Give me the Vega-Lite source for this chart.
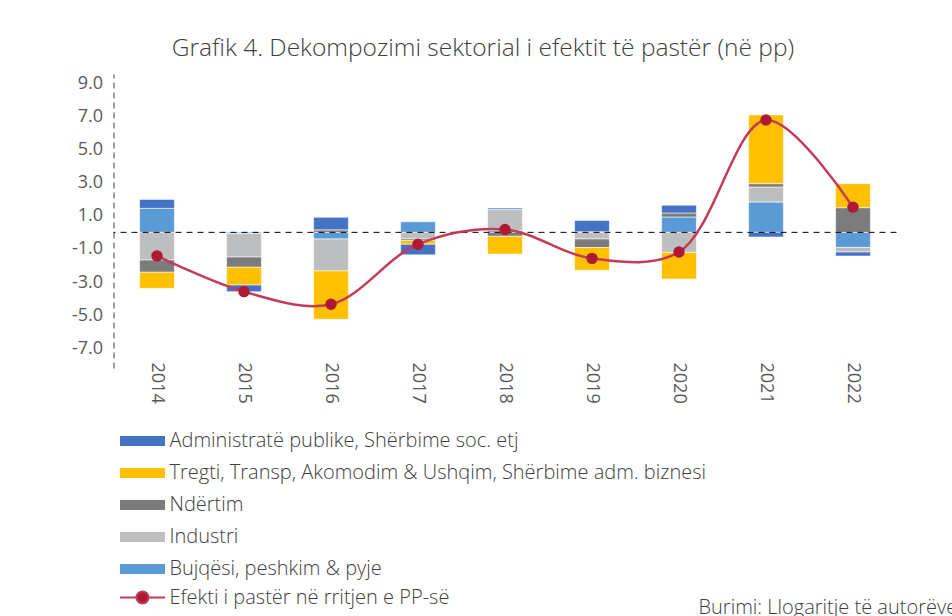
{
  "$schema": "https://vega.github.io/schema/vega-lite/v6.json",
  "autosize": {"type": "none"},
  "width": 783,
  "height": 294,
  "padding": {"left": 113.5, "top": 74, "right": 55.5, "bottom": 248},
  "background": "white",
  "config": {
    "font": "Open Sans",
    "view": {"stroke": null},
    "axis": {"labelFont": "Open Sans", "titleFont": "Open Sans"},
    "axisY": {"labelOverlap": false, "tickCount": 20}
  },
  "title": {
    "text": "Grafik 4. Dekompozimi sektorial i efektit të pastër (në pp)",
    "anchor": "middle",
    "dx": -22,
    "offset": 13,
    "fontSize": 24.5,
    "font": "Open Sans",
    "fontWeight": 300,
    "color": "#404040"
  },
  "datasets": {
    "sektoret": [
      {"viti": "2014", "sektori": "Bujqësi, peshkim & pyje", "vlera": 1.45},
      {"viti": "2014", "sektori": "Industri", "vlera": -1.67},
      {"viti": "2014", "sektori": "Ndërtim", "vlera": -0.74},
      {"viti": "2014", "sektori": "Tregti, Transp, Akomodim & Ushqim, Shërbime adm. biznesi", "vlera": -0.97},
      {"viti": "2014", "sektori": "Administratë publike, Shërbime soc. etj", "vlera": 0.54},
      {"viti": "2015", "sektori": "Bujqësi, peshkim & pyje", "vlera": -0.08},
      {"viti": "2015", "sektori": "Industri", "vlera": -1.41},
      {"viti": "2015", "sektori": "Ndërtim", "vlera": -0.62},
      {"viti": "2015", "sektori": "Tregti, Transp, Akomodim & Ushqim, Shërbime adm. biznesi", "vlera": -1.07},
      {"viti": "2015", "sektori": "Administratë publike, Shërbime soc. etj", "vlera": -0.40},
      {"viti": "2016", "sektori": "Bujqësi, peshkim & pyje", "vlera": -0.40},
      {"viti": "2016", "sektori": "Industri", "vlera": -1.93},
      {"viti": "2016", "sektori": "Ndërtim", "vlera": 0.15},
      {"viti": "2016", "sektori": "Tregti, Transp, Akomodim & Ushqim, Shërbime adm. biznesi", "vlera": -2.92},
      {"viti": "2016", "sektori": "Administratë publike, Shërbime soc. etj", "vlera": 0.76},
      {"viti": "2017", "sektori": "Bujqësi, peshkim & pyje", "vlera": 0.64},
      {"viti": "2017", "sektori": "Industri", "vlera": -0.40},
      {"viti": "2017", "sektori": "Ndërtim", "vlera": -0.10},
      {"viti": "2017", "sektori": "Tregti, Transp, Akomodim & Ushqim, Shërbime adm. biznesi", "vlera": -0.22},
      {"viti": "2017", "sektori": "Administratë publike, Shërbime soc. etj", "vlera": -0.64},
      {"viti": "2018", "sektori": "Bujqësi, peshkim & pyje", "vlera": 0.12},
      {"viti": "2018", "sektori": "Industri", "vlera": 1.27},
      {"viti": "2018", "sektori": "Ndërtim", "vlera": -0.24},
      {"viti": "2018", "sektori": "Tregti, Transp, Akomodim & Ushqim, Shërbime adm. biznesi", "vlera": -1.07},
      {"viti": "2018", "sektori": "Administratë publike, Shërbime soc. etj", "vlera": 0.08},
      {"viti": "2019", "sektori": "Bujqësi, peshkim & pyje", "vlera": 0.04},
      {"viti": "2019", "sektori": "Industri", "vlera": -0.40},
      {"viti": "2019", "sektori": "Ndërtim", "vlera": -0.52},
      {"viti": "2019", "sektori": "Tregti, Transp, Akomodim & Ushqim, Shërbime adm. biznesi", "vlera": -1.37},
      {"viti": "2019", "sektori": "Administratë publike, Shërbime soc. etj", "vlera": 0.68},
      {"viti": "2020", "sektori": "Bujqësi, peshkim & pyje", "vlera": 0.93},
      {"viti": "2020", "sektori": "Industri", "vlera": -1.21},
      {"viti": "2020", "sektori": "Ndërtim", "vlera": 0.24},
      {"viti": "2020", "sektori": "Tregti, Transp, Akomodim & Ushqim, Shërbime adm. biznesi", "vlera": -1.61},
      {"viti": "2020", "sektori": "Administratë publike, Shërbime soc. etj", "vlera": 0.47},
      {"viti": "2021", "sektori": "Bujqësi, peshkim & pyje", "vlera": 1.83},
      {"viti": "2021", "sektori": "Industri", "vlera": 0.91},
      {"viti": "2021", "sektori": "Ndërtim", "vlera": 0.20},
      {"viti": "2021", "sektori": "Tregti, Transp, Akomodim & Ushqim, Shërbime adm. biznesi", "vlera": 4.15},
      {"viti": "2021", "sektori": "Administratë publike, Shërbime soc. etj", "vlera": -0.28},
      {"viti": "2022", "sektori": "Bujqësi, peshkim & pyje", "vlera": -0.91},
      {"viti": "2022", "sektori": "Industri", "vlera": -0.28},
      {"viti": "2022", "sektori": "Ndërtim", "vlera": 1.49},
      {"viti": "2022", "sektori": "Tregti, Transp, Akomodim & Ushqim, Shërbime adm. biznesi", "vlera": 1.45},
      {"viti": "2022", "sektori": "Administratë publike, Shërbime soc. etj", "vlera": -0.24}
    ],
    "efekti": [
      {"viti": "2014", "efekti": -1.42},
      {"viti": "2015", "efekti": -3.58},
      {"viti": "2016", "efekti": -4.34},
      {"viti": "2017", "efekti": -0.72},
      {"viti": "2018", "efekti": 0.17},
      {"viti": "2019", "efekti": -1.57},
      {"viti": "2020", "efekti": -1.19},
      {"viti": "2021", "efekti": 6.78},
      {"viti": "2022", "efekti": 1.52}
    ]
  },
  "encoding": {
    "x": {
      "field": "viti",
      "type": "nominal",
      "scale": {"paddingInner": 0.6, "paddingOuter": 0.3},
      "axis": {
        "title": "Burimi: Llogaritje të autorëve.",
        "titleX": 584.5,
        "titleY": 245,
        "titleAlign": "left",
        "titleAnchor": null,
        "titleBaseline": "alphabetic",
        "titleFontSize": 20,
        "titleFontWeight": 300,
        "titleColor": "#404040",
        "labelAngle": 90,
        "labelFontSize": 18,
        "labelColor": "#595959",
        "labelPadding": -6,
        "ticks": false,
        "domain": false,
        "grid": false
      }
    }
  },
  "layer": [
    {
      "data": {"name": "sektoret"},
      "transform": [
        {"calculate": "indexof(['Bujqësi, peshkim & pyje', 'Industri', 'Ndërtim', 'Tregti, Transp, Akomodim & Ushqim, Shërbime adm. biznesi', 'Administratë publike, Shërbime soc. etj'], datum.sektori)", "as": "rendi"}
      ],
      "mark": {"type": "bar", "stroke": "#FFFFFF", "strokeWidth": 0.8, "strokeOpacity": 0.7},
      "encoding": {
        "y": {
          "field": "vlera",
          "type": "quantitative",
          "stack": "zero",
          "scale": {"domain": [-8.19, 9.56], "nice": false, "zero": false},
          "axis": {
            "title": null,
            "values": [-7, -5, -3, -1, 1, 3, 5, 7, 9],
            "tickCount": 20,
            "labelExpr": "replace(format(datum.value, '.1f'), '\u2212', '-')",
            "labelOverlap": false,
            "labelFontSize": 18,
            "labelColor": "#595959",
            "labelPadding": 11,
            "ticks": false,
            "grid": false,
            "domain": true,
            "domainColor": "#404040",
            "domainDash": [6, 4],
            "domainWidth": 1
          }
        },
        "order": {"field": "rendi", "type": "quantitative", "sort": "ascending"},
        "color": {
          "field": "sektori",
          "type": "nominal",
          "scale": {
            "domain": [
              "Administratë publike, Shërbime soc. etj",
              "Tregti, Transp, Akomodim & Ushqim, Shërbime adm. biznesi",
              "Ndërtim",
              "Industri",
              "Bujqësi, peshkim & pyje"
            ],
            "range": ["#4472C4", "#FFC000", "#7B7C7B", "#BDBEC0", "#5B9BD5"]
          },
          "legend": {
            "title": null,
            "orient": "none",
            "legendX": 19,
            "legendY": 357,
            "direction": "vertical",
            "symbolType": "M-4.5,-1H4.5V1H-4.5Z",
            "symbolSize": 100,
            "symbolStrokeWidth": 0,
            "labelFontSize": 20,
            "labelFontWeight": 300,
            "labelColor": "#404040",
            "labelFont": "Open Sans",
            "labelOffset": 17,
            "labelLimit": 700,
            "rowPadding": 12
          }
        }
      }
    },
    {
      "data": {"values": [{"nivel": 0}]},
      "mark": {"type": "rule", "color": "#000000", "strokeDash": [6, 5], "strokeWidth": 1},
      "encoding": {
        "x": null,
        "y": {"field": "nivel", "type": "quantitative"}
      }
    },
    {
      "data": {"name": "efekti"},
      "mark": {"type": "line", "strokeWidth": 2.5, "interpolate": "catmull-rom"},
      "encoding": {
        "y": {"field": "efekti", "type": "quantitative"},
        "stroke": {
          "datum": "Efekti i pastër në rritjen e PP-së",
          "type": "nominal",
          "scale": {"range": ["#C43B58"]},
          "legend": {
            "title": null,
            "orient": "none",
            "legendX": 19,
            "legendY": 513.5,
            "symbolType": "M-4.5,0H-1.2A1.2,1.2 0 1,1 1.2,0H4.5M1.2,0A1.2,1.2 0 1,1 -1.2,0",
            "symbolSize": 100,
            "symbolStrokeWidth": 2,
            "symbolFillColor": "#AE1A33",
            "labelFontSize": 20,
            "labelFontWeight": 300,
            "labelColor": "#404040",
            "labelFont": "Open Sans",
            "labelOffset": 17,
            "labelLimit": 700
          }
        }
      }
    },
    {
      "data": {"name": "efekti"},
      "mark": {"type": "point", "filled": true, "color": "#AE1A33", "size": 130, "opacity": 1},
      "encoding": {
        "y": {"field": "efekti", "type": "quantitative"}
      }
    }
  ]
}
